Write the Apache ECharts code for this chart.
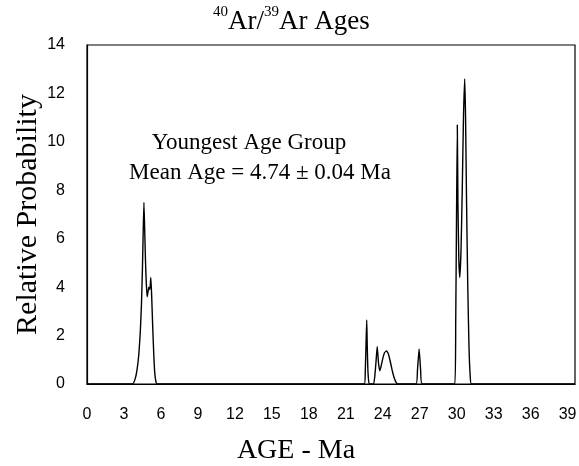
<!DOCTYPE html>
<html>
<head>
<meta charset="utf-8">
<script src="https://cdn.jsdelivr.net/npm/echarts@6/dist/echarts.min.js"></script>
<style>
  html, body { margin: 0; padding: 0; background: #fff; }
  #main { width: 579px; height: 466px; }
</style>
</head>
<body>
<div id="main"></div>
<script>
// 年龄 (Ma) 与相对概率
var ages = [
  0, 3.7, 3.9, 4.05, 4.2, 4.32, 4.42, 4.5, 4.56, 4.62, 4.68, 4.74, 4.8, 4.88,
  4.95, 5.02, 5.1, 5.18, 5.25, 5.33, 5.42, 5.5, 5.6, 5.7,
  22.5, 22.58, 22.65, 22.7, 22.74, 22.8, 22.9,
  23.25, 23.35, 23.45, 23.55, 23.65, 23.75, 23.85, 24.0, 24.15, 24.3, 24.45,
  24.6, 24.75, 24.9, 25.05, 25.2,
  26.7, 26.82, 26.95, 27.07, 27.2,
  29.85, 29.92, 29.98, 30.05, 30.1, 30.17, 30.25, 30.35, 30.45, 30.55, 30.65,
  30.72, 30.8, 30.9, 31.0, 31.1, 31.2,
  39.6
];
var probability = [
  0, 0, 0.2, 0.55, 1.2, 2.1, 3.3, 4.8, 6.3, 7.5, 6.4, 5.2, 4.3, 3.6,
  3.8, 4.0, 3.9, 4.4, 3.6, 2.4, 1.2, 0.45, 0.08, 0,
  0, 0.5, 1.8, 2.65, 1.6, 0.5, 0,
  0, 0.3, 0.9, 1.55, 0.9, 0.55, 0.7, 1.05, 1.3, 1.36, 1.25,
  0.95, 0.6, 0.3, 0.1, 0,
  0, 0.6, 1.45, 0.6, 0,
  0, 2.5, 6.5, 10.7, 7.5, 5.2, 4.4, 5.5, 8.0, 11.0, 12.6,
  11.0, 7.5, 4.0, 1.5, 0.3, 0,
  0
];
var noteLines = ['Youngest Age Group', 'Mean Age = 4.74 \u00b1 0.04 Ma'];

(function () {
  var myChart = echarts.init(document.getElementById('main'));
  var serif = '"Liberation Serif", "DejaVu Serif", serif';
  var sans = '"Liberation Sans", Arial, sans-serif';
  var points = ages.map(function (a, i) { return [a, probability[i]]; });

  var option = {
    animation: false,
    backgroundColor: '#fff',
    title: {
      text: '{sup|40}{big|Ar/}{sup|39}{big|Ar Ages}',
      left: 208,
      top: 0,
      textStyle: {
        rich: {
          big: { fontFamily: serif, fontSize: 27, fontWeight: 'normal', color: '#000', lineHeight: 30, verticalAlign: 'bottom' },
          sup: { fontFamily: serif, fontSize: 15, fontWeight: 'normal', color: '#000', lineHeight: 15, verticalAlign: 'top' }
        }
      }
    },
    grid: {
      left: 87, right: 4, top: 45, bottom: 82,
      outerBoundsMode: 'none',
      show: true, borderColor: '#000', borderWidth: 1.2,
      backgroundColor: 'transparent'
    },
    xAxis: {
      type: 'value',
      min: 0, max: 39.6, interval: 3,
      axisLine: { show: true, onZero: false, lineStyle: { color: '#000', width: 1.2 } },
      axisTick: { show: false },
      splitLine: { show: false },
      axisLabel: { margin: 23, showMaxLabel: false, color: '#000', fontFamily: sans, fontSize: 16 }
    },
    yAxis: {
      type: 'value',
      min: 0, max: 14, interval: 2,
      name: 'Relative Probability',
      nameLocation: 'middle',
      nameGap: 44,
      nameMoveOverlap: false,
      nameTextStyle: { fontFamily: serif, fontSize: 30, color: '#000' },
      axisLine: { show: true, lineStyle: { color: '#000', width: 1.2 } },
      axisTick: { show: false },
      splitLine: { show: false },
      axisLabel: { margin: 22, color: '#000', fontFamily: sans, fontSize: 16 }
    },
    graphic: [
      {
        type: 'text', x: 296, y: 451,
        style: { text: 'AGE - Ma', fill: '#000', font: '28px ' + serif, textAlign: 'center', textVerticalAlign: 'middle' }
      },
      {
        type: 'text', x: 249, y: 143,
        style: { text: noteLines[0], fill: '#000', font: '23px ' + serif, textAlign: 'center', textVerticalAlign: 'middle' }
      },
      {
        type: 'text', x: 260, y: 173,
        style: { text: noteLines[1], fill: '#000', font: '23px ' + serif, textAlign: 'center', textVerticalAlign: 'middle' }
      }
    ],
    series: [
      {
        type: 'line',
        data: points,
        symbol: 'none',
        smooth: 0.15,
        lineStyle: { color: '#000', width: 1.4 }
      }
    ]
  };
  myChart.setOption(option);
})();
</script>
</body>
</html>
